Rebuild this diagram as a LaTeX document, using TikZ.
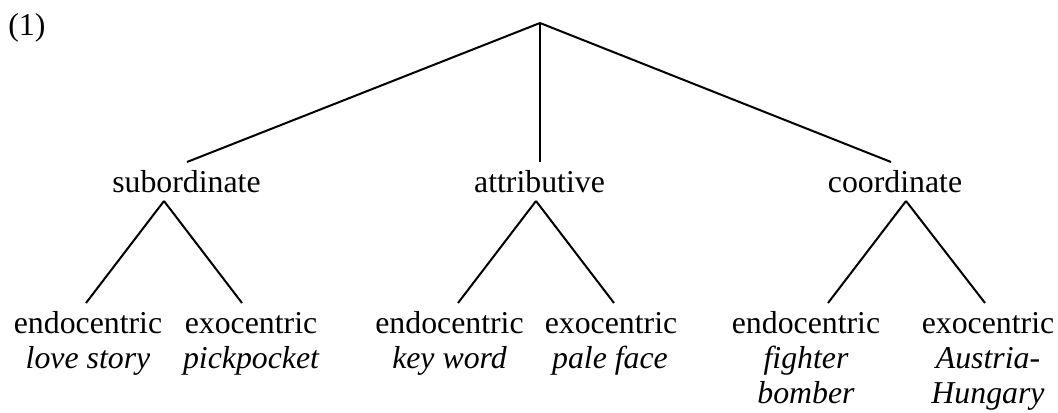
\documentclass[tikz,border=0pt]{standalone}
\usepackage{fontspec}
\setmainfont{Liberation Serif}
\begin{document}
\begin{tikzpicture}[x=0.5pt,y=-0.5pt,
  lbl/.style={anchor=base,inner sep=0pt,font=\fontsize{15.9}{18}\selectfont},
  ex/.style={lbl,font=\fontsize{15.9}{18}\selectfont\itshape},
  edge/.style={draw=black,line width=1pt}]
\useasboundingbox (0,0) rectangle (1058,412);
\node[lbl,anchor=base west] (num) at (8,35) {(1)};
\coordinate (root) at (540,23);
% middle level
\node[lbl] (sub) at (186.5,192) {subordinate};
\node[lbl] (att) at (539.5,192) {attributive};
\node[lbl] (coo) at (895,192) {coordinate};
\coordinate (subT) at (187,162);
\coordinate (attT) at (540,162);
\coordinate (cooT) at (891,162);
\coordinate (subB) at (164,201);
\coordinate (attB) at (536,201);
\coordinate (cooB) at (906,201);
% bottom level
\node[lbl] (e1) at (88,333) {endocentric};
\node[lbl] (x1) at (251,333) {exocentric};
\node[lbl] (e2) at (449.5,333) {endocentric};
\node[lbl] (x2) at (611,333) {exocentric};
\node[lbl] (e3) at (806,333) {endocentric};
\node[lbl] (x3) at (988,333) {exocentric};
\node[ex] (e1a) at (88,368) {love story};
\node[ex] (x1a) at (251,368) {pickpocket};
\node[ex] (e2a) at (449.5,368) {key word};
\node[ex] (x2a) at (610,368) {pale face};
\node[ex] (e3a) at (806,368) {fighter};
\node[ex] (e3b) at (806,403) {bomber};
\node[ex] (x3a) at (988,368) {Austria-};
\node[ex] (x3b) at (988,403) {Hungary};
\coordinate (e1T) at (86,303);
\coordinate (x1T) at (242,303);
\coordinate (e2T) at (458,303);
\coordinate (x2T) at (614,303);
\coordinate (e3T) at (828,303);
\coordinate (x3T) at (985,303);
% connectors
\path[edge] (root) -- (subT);
\path[edge] (root) -- (attT);
\path[edge] (root) -- (cooT);
\path[edge] (subB) -- (e1T);
\path[edge] (subB) -- (x1T);
\path[edge] (attB) -- (e2T);
\path[edge] (attB) -- (x2T);
\path[edge] (cooB) -- (e3T);
\path[edge] (cooB) -- (x3T);
\end{tikzpicture}
\end{document}
